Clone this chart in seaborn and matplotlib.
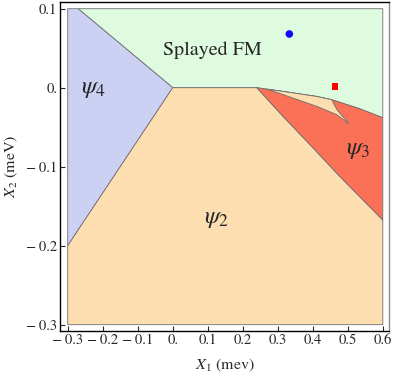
import matplotlib
matplotlib.use("Agg")
import matplotlib.pyplot as plt
import seaborn as sns
import pandas as pd

# ---- data ----
# psi4 / FM boundary and psi4 / psi2 boundary (straight lines meeting at origin)
fm_psi4_x = [-0.27, 0.0]
fm_psi4_y = [0.1, 0.0]
psi4_psi2_x = [0.0, -0.3]
psi4_psi2_y = [0.0, -0.2]

# Splayed FM lower boundary (to psi2 / psi3)
fm_low_x = [0.0, 0.24, 0.32, 0.41, 0.454, 0.53, 0.60]
fm_low_y = [0.0, 0.0, -0.005, -0.011, -0.0152, -0.026, -0.038]

# psi3 / psi2 lower boundary
psi3_low_x = [0.24, 0.316, 0.402, 0.478, 0.60]
psi3_low_y = [0.0, -0.0367, -0.0767, -0.1127, -0.1675]

# psi2 sliver inside psi3 (upper edge on FM boundary, then notch, cusp, lower edge)
sliver_top_x = [0.27, 0.32, 0.41, 0.454]
sliver_top_y = [-0.002, -0.005, -0.011, -0.0152]
notch_x = [0.469]
notch_y = [-0.0278]
sliver_bot_x = [0.504, 0.4686, 0.411, 0.316, 0.27]
sliver_bot_y = [-0.046, -0.0342, -0.0235, -0.0089, -0.002]

x_min, x_max = -0.3, 0.6
y_min, y_max = -0.3, 0.1

points = pd.DataFrame({"x": [0.333, 0.463], "y": [0.068, 0.0017],
                       "kind": ["circle", "square"]})

x_ticks = [-0.3, -0.2, -0.1, 0.0, 0.1, 0.2, 0.3, 0.4, 0.5, 0.6]
x_ticklabels = ["\u2212\u20090.3", "\u2212\u20090.2", "\u2212\u20090.1", "0.", "0.1", "0.2",
                "0.3", "0.4", "0.5", "0.6"]
y_ticks = [-0.3, -0.2, -0.1, 0.0, 0.1]
y_ticklabels = ["\u2212\u20090.3", "\u2212\u20090.2", "\u2212\u20090.1", "0.", "0.1"]

# colours
c_fm = "#dffbdf"
c_psi4 = "#ccd1f3"
c_psi2 = "#fddeb0"
c_psi3 = "#fa7157"
c_edge = "#6e6e6e"

sns.set_style("white")
plt.rcParams["font.family"] = ["STIXGeneral", "DejaVu Serif"]
plt.rcParams["mathtext.fontset"] = "stix"

fig = plt.figure(figsize=(3.95, 3.78), dpi=100)
ax = fig.add_axes([60 / 395, 1 - 331 / 378, 329 / 395, 329 / 378])

# Splayed FM
poly_fm_x = fm_psi4_x + fm_low_x[1:] + [x_max, x_max]
poly_fm_y = fm_psi4_y + fm_low_y[1:] + [y_max, y_max]
ax.fill(poly_fm_x, poly_fm_y, facecolor=c_fm, edgecolor=c_edge, lw=0.6, zorder=1)

# psi4
poly4_x = [x_min] + fm_psi4_x + psi4_psi2_x[1:]
poly4_y = [y_max] + fm_psi4_y + psi4_psi2_y[1:]
ax.fill(poly4_x, poly4_y, facecolor=c_psi4, edgecolor=c_edge, lw=0.6, zorder=1)

# psi2
poly2_x = psi4_psi2_x[::-1] + psi3_low_x + [x_max, x_min]
poly2_y = psi4_psi2_y[::-1] + psi3_low_y + [y_min, y_min]
ax.fill(poly2_x, poly2_y, facecolor=c_psi2, edgecolor=c_edge, lw=0.6, zorder=1)

# psi3
poly3_x = fm_low_x[1:] + psi3_low_x[::-1]
poly3_y = fm_low_y[1:] + psi3_low_y[::-1]
ax.fill(poly3_x, poly3_y, facecolor=c_psi3, edgecolor=c_edge, lw=0.6, zorder=2)

# psi2 sliver
sl_x = sliver_top_x + notch_x + sliver_bot_x
sl_y = sliver_top_y + notch_y + sliver_bot_y
ax.fill(sl_x, sl_y, facecolor=c_psi2, edgecolor=c_edge, lw=0.6, zorder=3)

# markers
sns.scatterplot(data=points[points.kind == "circle"], x="x", y="y", color="#0a0aff",
                marker="o", s=30, edgecolor="none", ax=ax, zorder=5, legend=False)
sns.scatterplot(data=points[points.kind == "square"], x="x", y="y", color="#ff0000",
                marker="s", s=22, edgecolor="none", ax=ax, zorder=5, legend=False)

# labels
ax.text(0.113, 0.048, "Splayed FM", fontsize=14.5, ha="center", va="center", zorder=6)
ax.text(-0.225, 0.0, r"$\psi_4$", fontsize=18, ha="center", va="center", zorder=6)
ax.text(0.126, -0.165, r"$\psi_2$", fontsize=18, ha="center", va="center", zorder=6)
ax.text(0.53, -0.077, r"$\psi_3$", fontsize=18, ha="center", va="center", zorder=6)

ax.set_xlim(-0.322, 0.6177)
ax.set_ylim(-0.308, 0.1085)
ax.set_xticks(x_ticks)
ax.set_xticklabels(x_ticklabels)
ax.set_yticks(y_ticks)
ax.set_yticklabels(y_ticklabels)
ax.tick_params(axis="both", direction="in", length=3.5, width=0.8, labelsize=10.5,
               pad=2, bottom=True, left=True, top=False, right=False)
ax.set_xlabel(r"$X_1$ (mev)", fontsize=11.5, labelpad=7)
ax.set_ylabel(r"$X_2$ (meV)", fontsize=11.5, labelpad=4)

for side in ["left", "bottom", "top"]:
    ax.spines[side].set_color("black")
    ax.spines[side].set_linewidth(1.0)
ax.spines["right"].set_color("#8a8a8a")
ax.spines["right"].set_linewidth(1.0)

fig.savefig("out.png", dpi=100)
